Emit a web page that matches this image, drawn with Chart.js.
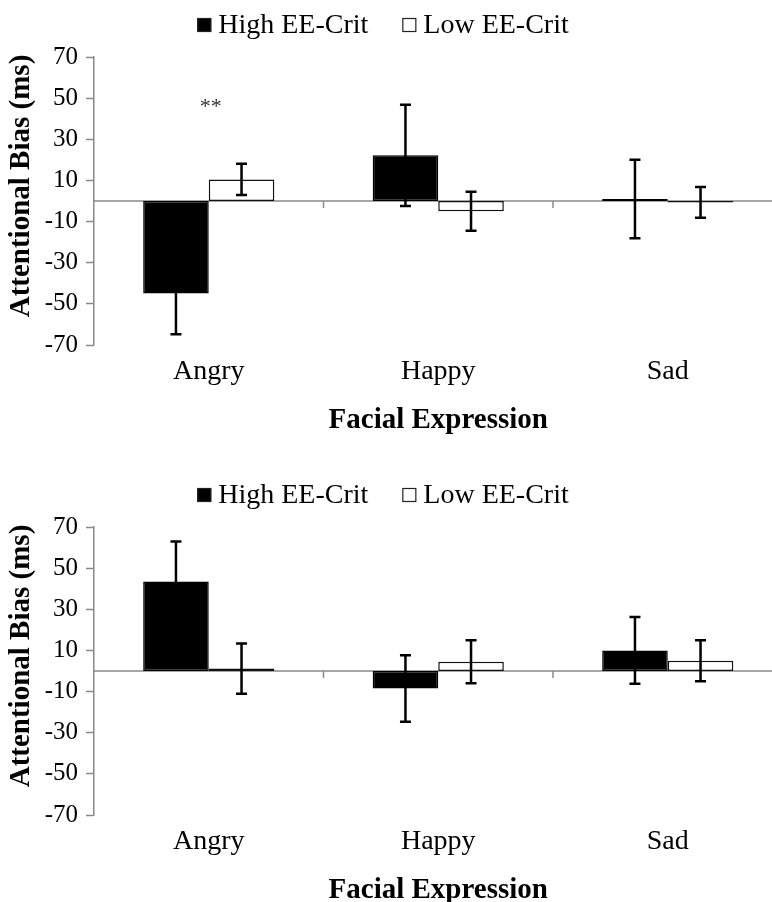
<!DOCTYPE html>
<html>
<head>
<meta charset="utf-8">
<script src="https://cdn.jsdelivr.net/npm/chart.js@4.4.1/dist/chart.umd.min.js"></script>
<style>
html,body{margin:0;padding:0;background:#fff;width:772px;height:902px;overflow:hidden;position:relative}
canvas{position:absolute;left:0}
#c1{top:0}
#c2{top:470px}
</style>
</head>
<body>
<canvas id="c1" width="790" height="470"></canvas>
<canvas id="c2" width="790" height="470"></canvas>
<script>
// ---------- data ----------
const categories = ['Angry', 'Happy', 'Sad'];
const seriesNames = ['High EE-Crit', 'Low EE-Crit'];
const yTicks = [-70, -50, -30, -10, 10, 30, 50, 70];
const yTitle = 'Attentional Bias (ms)';
const xTitle = 'Facial Expression';

// upper panel
const highMeansTop = [-45, 22.2, 1.0];
const highErrTop   = [19.8, 24.6, 19.1];
const lowMeansTop  = [10.5, -5, -0.7];
const lowErrTop    = [7.6, 9.5, 7.5];
const sigTextTop   = ['**', '', ''];
const sigValueTop  = [45.5, null, null];

// lower panel
const highMeansBot = [43.5, -8.5, 10];
const highErrBot   = [19.5, 16.2, 16.2];
const lowMeansBot  = [1.2, 4.5, 5];
const lowErrBot    = [12.2, 10.4, 10];
const sigTextBot   = ['', '', ''];
const sigValueBot  = [null, null, null];

// ---------- plugins ----------
const AXIS_GRAY = '#8a8a8a';
const SERIF = '"Liberation Serif", "Times New Roman", serif';

const zeroLinePlugin = {
  id: 'zeroLine',
  beforeDatasetsDraw(chart) {
    const {ctx, chartArea, scales: {x, y}} = chart;
    const y0 = y.getPixelForValue(0);
    ctx.save();
    ctx.strokeStyle = AXIS_GRAY;
    ctx.lineWidth = 1.5;
    ctx.beginPath();
    ctx.moveTo(chartArea.left, y0);
    ctx.lineTo(chartArea.right, y0);
    const n = chart.data.labels.length;
    for (let i = 1; i <= n; i++) {
      const bx = i < n ? (x.getPixelForValue(i - 1) + x.getPixelForValue(i)) / 2 : chartArea.right;
      ctx.moveTo(bx, y0);
      ctx.lineTo(bx, y0 + 7);
    }
    ctx.stroke();
    ctx.restore();
  }
};

const errorBarPlugin = {
  id: 'errorBars',
  afterDatasetsDraw(chart) {
    const {ctx, scales: {y}} = chart;
    chart.data.datasets.forEach((ds, di) => {
      const meta = chart.getDatasetMeta(di);
      meta.data.forEach((bar, i) => {
        const v = ds.data[i], e = ds.errors[i];
        const yHi = y.getPixelForValue(v + e), yLo = y.getPixelForValue(v - e);
        ctx.save();
        ctx.strokeStyle = '#000';
        ctx.lineWidth = 2.5;
        ctx.beginPath();
        ctx.moveTo(bar.x, yHi); ctx.lineTo(bar.x, yLo);
        ctx.moveTo(bar.x - 5.5, yHi); ctx.lineTo(bar.x + 5.5, yHi);
        ctx.moveTo(bar.x - 5.5, yLo); ctx.lineTo(bar.x + 5.5, yLo);
        ctx.stroke();
        ctx.restore();
      });
    });
    const sig = chart.options.plugins.sigMarks;
    if (sig) {
      const x = chart.scales.x;
      ctx.save();
      ctx.fillStyle = '#333';
      ctx.font = '22px ' + SERIF;
      ctx.textAlign = 'center';
      ctx.textBaseline = 'middle';
      sig.text.forEach((t, i) => {
        if (t && sig.values[i] != null) {
          ctx.fillText(t, x.getPixelForValue(i) + 2, y.getPixelForValue(sig.values[i]));
        }
      });
      ctx.restore();
    }
  }
};

// rotated value-axis title, centred slightly above the plot centre as in the original
const yTitlePlugin = {
  id: 'yAxisTitle',
  afterDraw(chart, args, opts) {
    const {ctx, chartArea} = chart;
    ctx.save();
    ctx.font = 'bold 29px ' + SERIF;
    ctx.fillStyle = '#000';
    ctx.textAlign = 'center';
    ctx.textBaseline = 'middle';
    ctx.translate(22, (chartArea.top + chartArea.bottom) / 2 - 15);
    ctx.rotate(-Math.PI / 2);
    ctx.fillText(opts.text, 0, 0);
    ctx.restore();
  }
};

const legendPlugin = {
  id: 'boxLegend',
  afterDraw(chart) {
    const ctx = chart.ctx;
    ctx.save();
    ctx.font = '28px ' + SERIF;
    const box = 14, gapText = 7, gapItem = 34, cx = 383, cy = 25;
    const items = chart.data.datasets.map(ds => ({
      text: ds.label, fill: ds.backgroundColor,
      w: ctx.measureText(ds.label).width
    }));
    let total = items.reduce((s, it) => s + box + gapText + it.w, 0) + gapItem * (items.length - 1);
    let xPos = cx - total / 2;
    ctx.textBaseline = 'middle';
    ctx.textAlign = 'left';
    items.forEach(it => {
      ctx.fillStyle = it.fill;
      ctx.fillRect(xPos, cy - box / 2, box, box);
      ctx.strokeStyle = '#222';
      ctx.lineWidth = 1.2;
      ctx.strokeRect(xPos + 0.5, cy - box / 2 + 0.5, box - 1, box - 1);
      ctx.fillStyle = '#000';
      ctx.fillText(it.text, xPos + box + gapText, cy + 1);
      xPos += box + gapText + it.w + gapItem;
    });
    ctx.restore();
  }
};

// ---------- chart builder ----------
function makeChart(id, highMeans, highErr, lowMeans, lowErr, sigText, sigValue) {
  return new Chart(document.getElementById(id), {
    type: 'bar',
    data: {
      labels: categories,
      datasets: [
        {
          label: seriesNames[0], data: highMeans, errors: highErr,
          backgroundColor: '#000', borderColor: '#000', borderWidth: 1.5, borderSkipped: false,
          categoryPercentage: 2 / 3.5, barPercentage: 1
        },
        {
          label: seriesNames[1], data: lowMeans, errors: lowErr,
          backgroundColor: '#fff', borderColor: '#111', borderWidth: 1.5, borderSkipped: false,
          categoryPercentage: 2 / 3.5, barPercentage: 1
        }
      ]
    },
    options: {
      responsive: false,
      animation: false,
      events: [],
      devicePixelRatio: 1,
      layout: { padding: { top: 57, right: 7.5, bottom: 31.6, left: 0 } },
      plugins: {
        legend: { display: false },
        tooltip: { enabled: false },
        sigMarks: { text: sigText, values: sigValue },
        yAxisTitle: { text: yTitle }
      },
      scales: {
        x: {
          grid: { display: false, drawTicks: false },
          border: { display: false },
          ticks: { color: '#000', padding: 10, font: { family: SERIF, size: 28 } },
          title: {
            display: true, text: xTitle, color: '#000',
            font: { family: SERIF, size: 29, weight: 'bold' },
            padding: { top: 5, bottom: 0 }
          }
        },
        y: {
          min: -70, max: 70,
          afterBuildTicks: s => { s.ticks = yTicks.map(v => ({ value: v })); },
          afterFit: s => { s.width = 94; },
          grid: { drawOnChartArea: false, drawTicks: true, tickLength: 8, tickColor: AXIS_GRAY, tickWidth: 1.5 },
          border: { display: true, color: AXIS_GRAY, width: 1.5 },
          ticks: { color: '#000', padding: 8, font: { family: SERIF, size: 25 } },
          title: { display: false, text: yTitle }
        }
      }
    },
    plugins: [zeroLinePlugin, errorBarPlugin, yTitlePlugin, legendPlugin]
  });
}

makeChart('c1', highMeansTop, highErrTop, lowMeansTop, lowErrTop, sigTextTop, sigValueTop);
makeChart('c2', highMeansBot, highErrBot, lowMeansBot, lowErrBot, sigTextBot, sigValueBot);
</script>
</body>
</html>
